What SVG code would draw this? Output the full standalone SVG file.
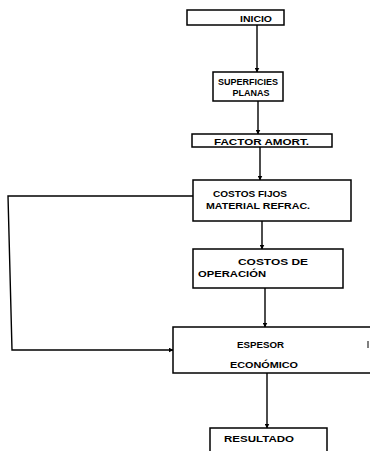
<svg xmlns="http://www.w3.org/2000/svg" width="370" height="451" viewBox="0 0 370 451">
<defs>
<marker id="ah" viewBox="0 0 10 10" refX="9" refY="5" markerWidth="5" markerHeight="5" orient="auto" markerUnits="userSpaceOnUse">
<path d="M0,0 L10,5 L0,10 z" fill="#000"/>
</marker>
<style>
.box{fill:#fff;stroke:#000;stroke-width:1.5}
.t{font-family:"Liberation Sans",Arial,sans-serif;font-weight:bold;font-size:9.5px;fill:#000}
.c{fill:none;stroke:#000;stroke-width:1.4}
</style>
</defs>
<rect width="370" height="451" fill="#fff"/>
<g id="connectors">
<line class="c" x1="257" y1="25" x2="257" y2="72" marker-end="url(#ah)"/>
<line class="c" x1="258" y1="101" x2="258" y2="134" marker-end="url(#ah)"/>
<line class="c" x1="260" y1="147" x2="260" y2="180" marker-end="url(#ah)"/>
<line class="c" x1="262" y1="221" x2="262" y2="249" marker-end="url(#ah)"/>
<line class="c" x1="265" y1="288" x2="265" y2="327" marker-end="url(#ah)"/>
<line class="c" x1="267" y1="373" x2="267" y2="428" marker-end="url(#ah)"/>
<polyline class="c" points="193,196 8,196 12,350 173,350" marker-end="url(#ah)"/>
</g>
<g id="inicio">
<rect class="box" x="187" y="10" width="97" height="15"/>
<text class="t" x="240" y="21.5" textLength="32" lengthAdjust="spacingAndGlyphs">INICIO</text>
</g>
<g id="superficies">
<rect class="box" x="213" y="72" width="70" height="29"/>
<text class="t" x="248" y="85" text-anchor="middle" style="font-size:9px">SUPERFICIES</text>
<text class="t" x="251" y="96" text-anchor="middle" style="font-size:9px">PLANAS</text>
</g>
<g id="factor">
<rect class="box" x="192" y="134" width="140" height="13"/>
<text class="t" x="214" y="144.5" textLength="95" lengthAdjust="spacingAndGlyphs">FACTOR AMORT.</text>
</g>
<g id="costos-fijos">
<rect class="box" x="193" y="180" width="158" height="41"/>
<text class="t" x="213" y="197" textLength="74" lengthAdjust="spacingAndGlyphs">COSTOS FIJOS</text>
<text class="t" x="206" y="209" textLength="104" lengthAdjust="spacingAndGlyphs">MATERIAL REFRAC.</text>
</g>
<g id="costos-operacion">
<rect class="box" x="193" y="249" width="150" height="39"/>
<text class="t" x="238" y="265" textLength="70" lengthAdjust="spacingAndGlyphs">COSTOS DE</text>
<text class="t" x="198" y="277" textLength="68" lengthAdjust="spacingAndGlyphs">OPERACIÓN</text>
</g>
<g id="espesor">
<rect class="box" x="173" y="327" width="200" height="46"/>
<line x1="368" y1="341" x2="368" y2="348" stroke="#000" stroke-width="1"/>
<text class="t" x="237" y="348" textLength="47" lengthAdjust="spacingAndGlyphs">ESPESOR</text>
<text class="t" x="230" y="368" textLength="68" lengthAdjust="spacingAndGlyphs">ECONÓMICO</text>
</g>
<g id="resultado">
<rect class="box" x="210" y="428" width="117" height="30"/>
<text class="t" x="224" y="442" textLength="70" lengthAdjust="spacingAndGlyphs">RESULTADO</text>
</g>
</svg>
